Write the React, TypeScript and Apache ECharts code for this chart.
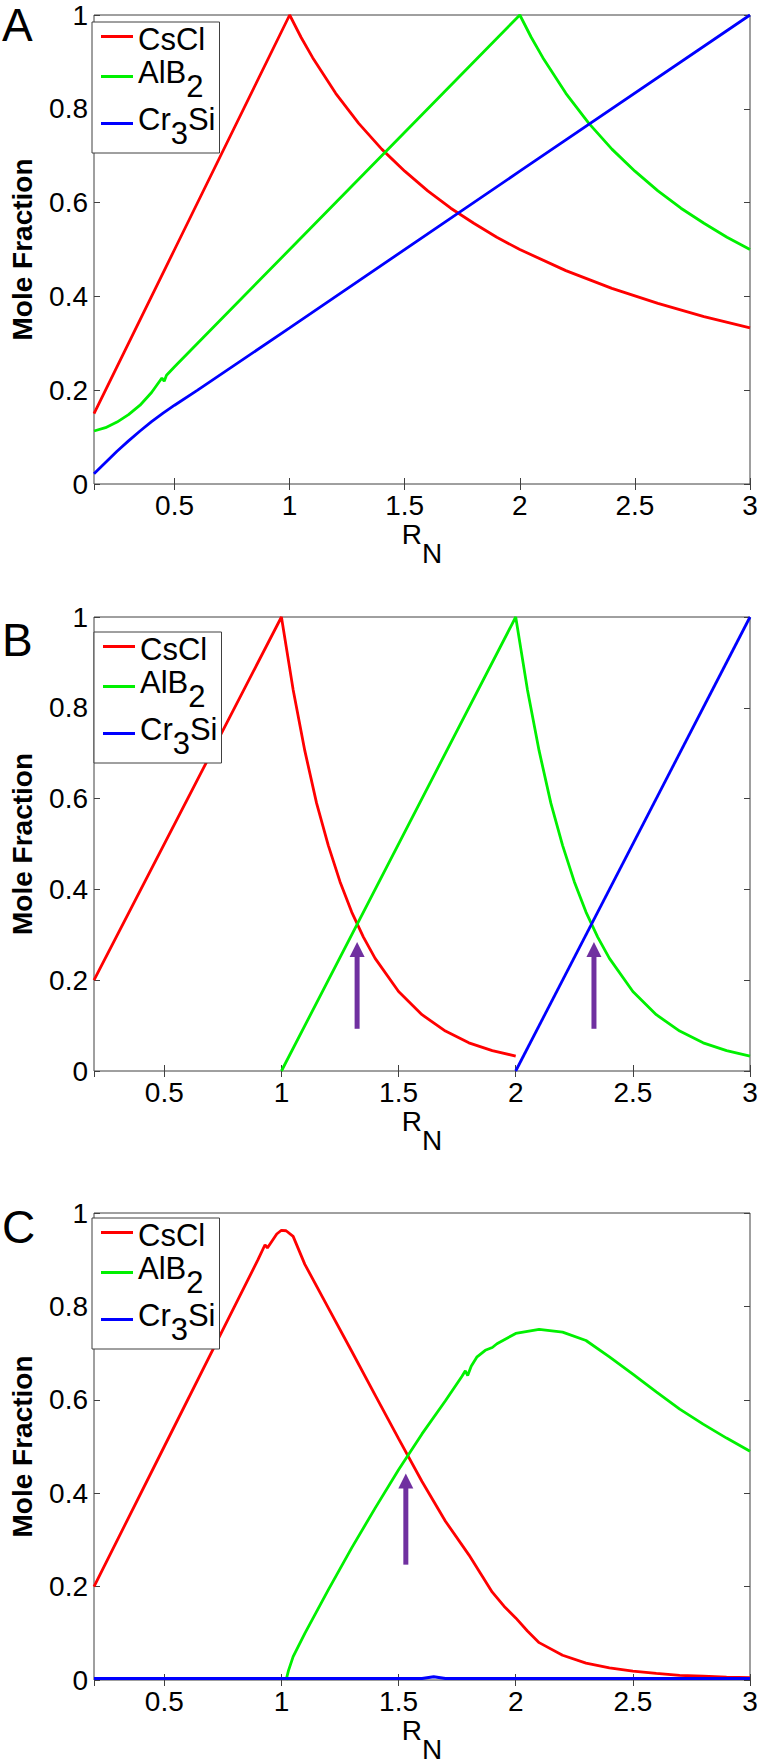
import React, { useEffect, useRef } from "react";
import * as echarts from "echarts";

// ---------- data ----------
// Panel A
const A_CSCL: number[][] = [
  [0.15, 0.15], [0.5, 0.5], [1.0, 1.0], [1.05, 0.952], [1.1, 0.909], [1.2, 0.833], [1.3, 0.769],
  [1.4, 0.714], [1.5, 0.667], [1.6, 0.625], [1.7, 0.588], [1.8, 0.556], [1.9, 0.526],
  [2.0, 0.5], [2.2, 0.455], [2.4, 0.417], [2.6, 0.385], [2.8, 0.357], [3.0, 0.333],
];
const A_ALB2: number[][] = [
  [0.15, 0.113], [0.2, 0.12], [0.25, 0.132], [0.3, 0.148], [0.35, 0.168], [0.4, 0.195],
  [0.445, 0.226], [0.455, 0.219], [0.465, 0.232], [0.5, 0.25], [1.0, 0.5], [1.5, 0.75],
  [2.0, 1.0], [2.05, 0.952], [2.1, 0.909], [2.2, 0.833], [2.3, 0.769], [2.4, 0.714],
  [2.5, 0.667], [2.6, 0.625], [2.7, 0.588], [2.8, 0.556], [2.9, 0.526], [3.0, 0.5],
];
const A_CR3SI: number[][] = [
  [0.15, 0.022], [0.2, 0.046], [0.25, 0.07], [0.3, 0.092], [0.35, 0.113], [0.4, 0.133],
  [0.45, 0.151], [0.5, 0.168], [0.6, 0.2], [1.0, 0.333], [2.0, 0.667], [3.0, 1.0],
];

// Panel B
const B_CSCL: number[][] = [
  [0.2, 0.2], [1.0, 1.0], [1.05, 0.84], [1.1, 0.705], [1.15, 0.59], [1.2, 0.497], [1.25, 0.417],
  [1.3, 0.35], [1.35, 0.295], [1.4, 0.248], [1.5, 0.175], [1.6, 0.124], [1.7, 0.088],
  [1.8, 0.062], [1.9, 0.045], [2.0, 0.033],
];
const B_ALB2: number[][] = [
  [1.0, 0.0], [2.0, 1.0], [2.05, 0.84], [2.1, 0.705], [2.15, 0.59], [2.2, 0.497], [2.25, 0.417],
  [2.3, 0.35], [2.35, 0.295], [2.4, 0.248], [2.5, 0.175], [2.6, 0.124], [2.7, 0.088],
  [2.8, 0.062], [2.9, 0.045], [3.0, 0.033],
];
const B_CR3SI: number[][] = [[2.0, 0.0], [3.0, 1.0]];

// Panel C
const C_CSCL: number[][] = [
  [0.2, 0.2], [0.5, 0.5], [0.8, 0.8], [0.9, 0.9], [0.93, 0.932], [0.94, 0.925], [0.96, 0.94],
  [0.98, 0.955], [1.0, 0.963], [1.02, 0.962], [1.05, 0.95], [1.1, 0.89], [1.2, 0.797],
  [1.3, 0.704], [1.4, 0.61], [1.5, 0.517], [1.6, 0.425], [1.7, 0.34], [1.8, 0.268],
  [1.85, 0.228], [1.9, 0.188], [1.95, 0.158], [2.0, 0.133], [2.05, 0.105], [2.1, 0.08],
  [2.2, 0.053], [2.3, 0.036], [2.4, 0.026], [2.5, 0.019], [2.6, 0.014], [2.7, 0.01],
  [2.8, 0.008], [2.9, 0.006], [3.0, 0.005],
];
const C_ALB2: number[][] = [
  [1.02, 0.0], [1.03, 0.02], [1.05, 0.05], [1.1, 0.1], [1.2, 0.193], [1.3, 0.283], [1.4, 0.368],
  [1.5, 0.45], [1.6, 0.527], [1.7, 0.598], [1.77, 0.65], [1.785, 0.662], [1.795, 0.652],
  [1.81, 0.672], [1.835, 0.692], [1.87, 0.706], [1.9, 0.712], [1.92, 0.72], [2.0, 0.742],
  [2.1, 0.751], [2.2, 0.745], [2.3, 0.727], [2.4, 0.692], [2.5, 0.655], [2.6, 0.617],
  [2.7, 0.58], [2.8, 0.548], [2.9, 0.518], [3.0, 0.49],
];
const C_CR3SI: number[][] = [
  [0.2, 0.003], [1.6, 0.003], [1.65, 0.007], [1.7, 0.003], [3.0, 0.003],
];

// arrows: [x, base y, tip y]
const B_ARROWS: number[][] = [[1.323, 0.093, 0.284], [2.334, 0.093, 0.284]];
const C_ARROWS: number[][] = [[1.531, 0.247, 0.442]];

const X_MIN = [0.15, 0.2, 0.2];
const X_MAX = 3;
const X_STEP = 0.5;
const Y_MIN = 0;
const Y_MAX = 1;
const Y_STEP = 0.2;

const SERIES_NAMES = ["CsCl", "AlB2", "Cr3Si"];
const PANEL_LETTERS = ["A", "B", "C"];
const Y_TITLE = "Mole Fraction";

// ---------- styling / layout ----------
const FONT = "'Liberation Sans', Arial, Helvetica, sans-serif";
const COLORS = ["#ff0000", "#00f000", "#0000ff"];
const PURPLE = "#7030a0";
const AXIS_COLOR = "#404040";
const GRIDS = [
  { left: 86, top: 15, width: 664, height: 469 },
  { left: 86, top: 617, width: 664, height: 454 },
  { left: 86, top: 1213, width: 664, height: 467 },
];
const LEGEND_POS = [
  { left: 92, top: 22 },
  { left: 94, top: 632 },
  { left: 92, top: 1218 },
];
const LETTER_TOP = [2, 617, 1204];

const LEGEND_LABEL: Record<string, string> = {
  CsCl: "{n|CsCl}",
  AlB2: "{n|AlB}{s|2}",
  Cr3Si: "{n|Cr}{s|3}{n|Si}",
};

export default function App() {
  const ref = useRef<HTMLDivElement>(null);

  useEffect(() => {
    if (!ref.current) return;
    const chart = echarts.init(ref.current, undefined, { renderer: "svg" });

    const panelData = [
      [A_CSCL, A_ALB2, A_CR3SI],
      [B_CSCL, B_ALB2, B_CR3SI],
      [C_CSCL, C_ALB2, C_CR3SI],
    ];
    const panelArrows = [[], B_ARROWS, C_ARROWS];

    const tick = { inside: true, length: 6, lineStyle: { color: AXIS_COLOR, width: 1 } };

    const xAxes: any[] = [];
    const yAxes: any[] = [];
    for (let i = 0; i < 3; i++) {
      xAxes.push({
        type: "value",
        gridIndex: i,
        min: X_MIN[i],
        max: X_MAX,
        minInterval: X_STEP,
        maxInterval: X_STEP,
        splitNumber: 6,
        axisLine: { show: false },
        axisTick: tick,
        splitLine: { show: false },
        axisLabel: { showMinLabel: false, fontSize: 28, fontFamily: FONT, color: "#000", margin: 7 },
        name: "{r|R}{n|N}",
        nameLocation: "middle",
        nameGap: 36,
        nameTextStyle: {
          rich: {
            r: { fontSize: 28, fontFamily: FONT, color: "#000", verticalAlign: "top" },
            n: { fontSize: 28, fontFamily: FONT, color: "#000", verticalAlign: "top", padding: [19, 0, 0, 0] },
          },
        },
      });
      yAxes.push({
        type: "value",
        gridIndex: i,
        min: Y_MIN,
        max: Y_MAX,
        interval: Y_STEP,
        axisLine: { show: false },
        axisTick: tick,
        splitLine: { show: false },
        axisLabel: { fontSize: 28, fontFamily: FONT, color: "#000", margin: 6 },
        name: Y_TITLE,
        nameLocation: "middle",
        nameRotate: 90,
        nameGap: 58,
        nameTextStyle: { fontSize: 28, fontWeight: "bold", fontFamily: FONT, color: "#000" },
      });
    }
    for (let i = 0; i < 3; i++) {
      xAxes.push({
        type: "value",
        gridIndex: i,
        position: "top",
        min: X_MIN[i],
        max: X_MAX,
        minInterval: X_STEP,
        maxInterval: X_STEP,
        splitNumber: 6,
        axisLine: { show: false },
        axisTick: tick,
        splitLine: { show: false },
        axisLabel: { show: false },
      });
      yAxes.push({
        type: "value",
        gridIndex: i,
        position: "right",
        min: Y_MIN,
        max: Y_MAX,
        interval: Y_STEP,
        axisLine: { show: false },
        axisTick: tick,
        splitLine: { show: false },
        axisLabel: { show: false },
      });
    }

    const series: any[] = [];
    for (let i = 0; i < 3; i++) {
      panelData[i].forEach((d, k) => {
        series.push({
          type: "line",
          name: SERIES_NAMES[k],
          xAxisIndex: i,
          yAxisIndex: i,
          data: d,
          symbol: "none",
          showSymbol: false,
          silent: true,
          lineStyle: { color: COLORS[k], width: i === 2 && k === 2 ? 3 : 2.8 },
          itemStyle: { color: COLORS[k] },
          emphasis: { disabled: true },
          z: 2 + k,
        });
      });
      if (panelArrows[i].length) {
        series.push({
          type: "custom",
          name: "arrow" + i,
          xAxisIndex: i,
          yAxisIndex: i,
          data: panelArrows[i],
          encode: { x: 0, y: [1, 2] },
          silent: true,
          z: 6,
          renderItem: (params: any, api: any) => {
            const x = api.value(0);
            const base = api.coord([x, api.value(1)]);
            const tip = api.coord([x, api.value(2)]);
            const headH = 15;
            const headW = 15;
            const shaftW = 5;
            return {
              type: "group",
              children: [
                {
                  type: "rect",
                  shape: { x: base[0] - shaftW / 2, y: tip[1] + headH - 1, width: shaftW, height: base[1] - tip[1] - headH + 1 },
                  style: { fill: PURPLE },
                },
                {
                  type: "polygon",
                  shape: { points: [[tip[0], tip[1]], [tip[0] - headW / 2, tip[1] + headH], [tip[0] + headW / 2, tip[1] + headH]] },
                  style: { fill: PURPLE },
                },
              ],
            };
          },
        });
      }
    }

    const legends = [0, 1, 2].map((i) => ({
      data: SERIES_NAMES,
      orient: "vertical",
      left: LEGEND_POS[i].left,
      top: LEGEND_POS[i].top,
      icon: "rect",
      itemWidth: 32,
      itemHeight: 3,
      itemGap: 2,
      itemTextGap: 3,
      padding: [2, 4, 4, 9],
      backgroundColor: "#ffffff",
      borderColor: AXIS_COLOR,
      borderWidth: 1,
      borderRadius: 0,
      selectedMode: false,
      itemStyle: { borderWidth: 0 },
      formatter: (name: string) => LEGEND_LABEL[name] || name,
      textStyle: {
        rich: {
          n: { fontSize: 31, fontFamily: FONT, color: "#000", verticalAlign: "top", padding: [6, 0, 0, 0] },
          s: { fontSize: 31, fontFamily: FONT, color: "#000", verticalAlign: "top", padding: [20, 0, 0, 0] },
        },
      },
      z: 10,
    }));

    chart.setOption({
      animation: false,
      backgroundColor: "#ffffff",
      grid: GRIDS.map((g) => ({ ...g, show: true, borderColor: AXIS_COLOR, borderWidth: 1, containLabel: false })),
      xAxis: xAxes,
      yAxis: yAxes,
      legend: legends,
      series,
      graphic: PANEL_LETTERS.map((t, i) => ({
        type: "text",
        left: 2,
        top: LETTER_TOP[i],
        style: { text: t, fontSize: 46, fontFamily: FONT, fill: "#000" },
      })),
    });

    return () => chart.dispose();
  }, []);

  return (
    <div
      ref={ref}
      style={{ position: "absolute", left: 0, top: 0, width: 762, height: 1764, background: "#fff" }}
    />
  );
}
